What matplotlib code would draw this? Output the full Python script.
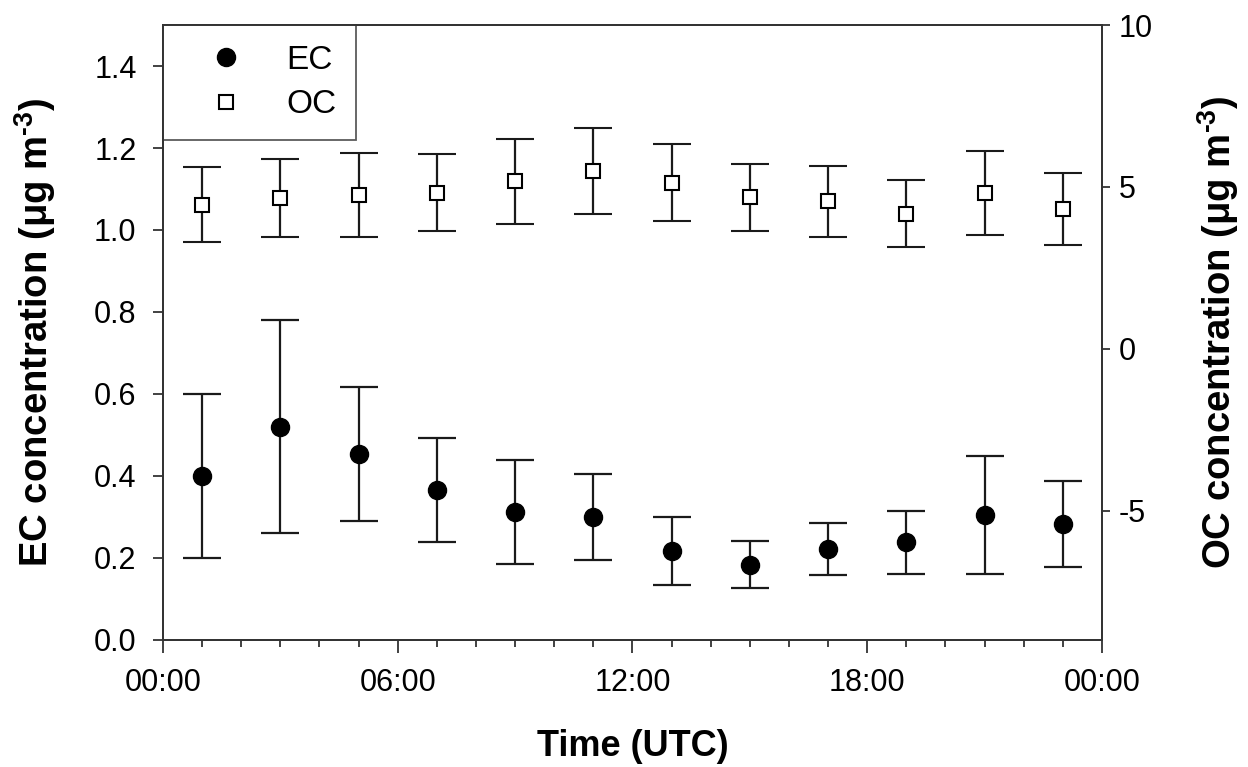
import matplotlib
matplotlib.use("Agg")
import matplotlib.pyplot as plt
import numpy as np
from matplotlib.ticker import MultipleLocator
from matplotlib.lines import Line2D

plt.rcParams['font.family'] = ['Liberation Sans', 'DejaVu Sans']
plt.rcParams['mathtext.fontset'] = 'custom'
plt.rcParams['mathtext.rm'] = 'Liberation Sans:bold'
plt.rcParams['mathtext.bf'] = 'Liberation Sans:bold'
plt.rcParams['axes.unicode_minus'] = False

# hour of day (bin centres)
hours = [1, 3, 5, 7, 9, 11, 13, 15, 17, 19, 21, 23]
ec_mean = [0.40, 0.52, 0.454, 0.366, 0.313, 0.300, 0.216, 0.184, 0.222, 0.238, 0.305, 0.283]
ec_err = [0.20, 0.26, 0.163, 0.126, 0.127, 0.106, 0.083, 0.058, 0.064, 0.076, 0.143, 0.105]
oc_mean = [4.45, 4.65, 4.76, 4.82, 5.17, 5.49, 5.13, 4.68, 4.55, 4.17, 4.81, 4.31]
oc_err = [1.16, 1.20, 1.30, 1.18, 1.32, 1.32, 1.19, 1.03, 1.10, 1.04, 1.30, 1.11]
xtick_pos = [0, 6, 12, 18, 24]
xtick_labels = ['00:00', '06:00', '12:00', '18:00', '00:00']
ec_ticks = [0.0, 0.2, 0.4, 0.6, 0.8, 1.0, 1.2, 1.4]
oc_ticks = [-5, 0, 5, 10]

fig = plt.figure(figsize=(12.48, 7.67), dpi=100)
ax = fig.add_axes([0.1306, 0.1656, 0.7524, 0.8018])
ax2 = ax.twinx()

ax.errorbar(hours, ec_mean, yerr=ec_err, fmt='o', color='black', ms=13,
            ecolor='#1a1a1a', elinewidth=1.6, capsize=14, capthick=1.6)
ax2.errorbar(hours, oc_mean, yerr=oc_err, fmt='s', mfc='white', mec='black',
             mew=1.5, ms=10, ecolor='#1a1a1a', elinewidth=1.6, capsize=14, capthick=1.6)

ax.set_xlim(0, 24)
ax.set_ylim(0, 1.5)
ax2.set_ylim(-9, 10)

ax.set_xticks(xtick_pos)
ax.set_xticklabels(xtick_labels)
ax.xaxis.set_minor_locator(MultipleLocator(1))
ax.set_yticks(ec_ticks)
ax.set_yticklabels(['%.1f' % v for v in ec_ticks])
ax2.set_yticks(oc_ticks)
ax2.set_yticklabels([str(v) for v in oc_ticks])

for a in (ax, ax2):
    for s in a.spines.values():
        s.set_linewidth(1.3)
        s.set_color('#333333')

ax.tick_params(axis='y', which='major', direction='out', length=7, width=1.3,
               labelsize=22, color='#333333', pad=12)
ax.tick_params(axis='x', which='major', direction='out', length=9, width=1.3,
               labelsize=22, color='#333333', pad=11)
ax.tick_params(axis='x', which='minor', direction='out', length=5, width=1.3, color='#333333')
ax2.tick_params(axis='y', direction='out', length=6, width=1.3, labelsize=22,
                color='#333333', pad=6)

ax.set_xlabel('Time (UTC)', fontsize=26, fontweight='bold')
ax.set_ylabel(r'EC concentration (μg m$^{\text{-3}}$)', fontsize=27.5, fontweight='bold')
ax2.set_ylabel(r'OC concentration (μg m$^{\text{-3}}$)', fontsize=27.5, fontweight='bold')
ax.xaxis.set_label_coords(0.5, -0.145)
ax.yaxis.set_label_coords(-0.112, 0.5)
ax2.yaxis.set_label_coords(1.099, 0.5)

handles = [Line2D([], [], marker='o', ls='none', color='black', ms=13),
           Line2D([], [], marker='s', ls='none', mfc='white', mec='black', mew=1.5, ms=10)]
leg = ax.legend(handles, ['EC', 'OC'], loc='upper left', bbox_to_anchor=(0, 1),
                fontsize=24, frameon=True, fancybox=False, borderaxespad=0,
                handlelength=2.6, handletextpad=0.5, borderpad=0.6, labelspacing=0.4)
leg.get_frame().set_edgecolor('#333333')
leg.get_frame().set_linewidth(1.3)
leg.set_zorder(10)

fig.savefig('out.png', dpi=100)
